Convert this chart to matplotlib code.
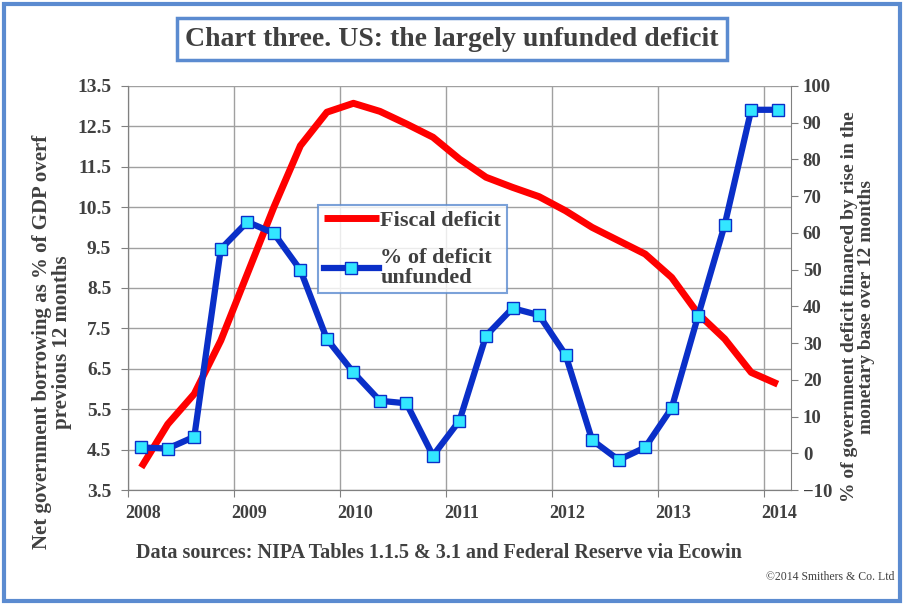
import matplotlib
matplotlib.use("Agg")
import matplotlib.pyplot as plt
from matplotlib.patches import Rectangle
from matplotlib.transforms import ScaledTranslation

# quarterly observations, plotted mid-quarter
dates = [2008.125 + 0.25 * i for i in range(25)]

fiscalDeficit = [4.06, 5.13, 5.88, 7.2, 8.85, 10.5, 12.02, 12.85, 13.07, 12.87,
                 12.56, 12.23, 11.69, 11.24, 10.99, 10.76, 10.41, 10.0, 9.67, 9.34,
                 8.76, 7.86, 7.24, 6.41, 6.12]

unfunded = [1.6, 1.3, 4.5, 55.6, 63.0, 59.9, 49.9, 31.1, 22.0, 14.3,
            13.6, -0.65, 8.9, 32.0, 39.5, 37.6, 26.8, 3.6, -1.8, 1.6,
            12.3, 37.5, 62.2, 93.5, 93.5]

years = [2008, 2009, 2010, 2011, 2012, 2013, 2014]
leftTicks = [3.5, 4.5, 5.5, 6.5, 7.5, 8.5, 9.5, 10.5, 11.5, 12.5, 13.5]
rightTicks = [-10, 0, 10, 20, 30, 40, 50, 60, 70, 80, 90, 100]

plt.rcParams['font.family'] = ['Liberation Serif', 'DejaVu Serif']
textCol = "#404040"
frameCol = "#5b8bd0"

fig = plt.figure(figsize=(9.09, 6.05), dpi=100)
ax = fig.add_axes([0.1408, 0.19, 0.7294, 0.668])
ax2 = ax.twinx()

red_line, = ax.plot(dates, fiscalDeficit, color="#ff0000", lw=5, solid_capstyle="butt",
                    label="Fiscal deficit", zorder=3)
blue_line, = ax2.plot(dates, unfunded, color="#0a2fc8", lw=4.5, marker="s", markersize=9,
                      markerfacecolor="#33e6ff", markeredgecolor="#0a2fc8", markeredgewidth=1,
                      label="% of deficit\nunfunded", zorder=3)

ax.set_xlim(2008, 2014.25)
ax.set_ylim(3.5, 13.5)
ax2.set_ylim(-10, 100)
ax.set_xticks(years)
ax.set_yticks(leftTicks)
ax2.set_yticks(rightTicks)
ax.set_xticklabels([str(y) for y in years])
ax.grid(True, color="#a0a0a0", lw=1)
ax.set_axisbelow(True)

for a in (ax, ax2):
    for s in a.spines.values():
        s.set_color("#808080")
    a.spines['top'].set_visible(False)
ax.spines['right'].set_visible(False)

ax.tick_params(axis='y', labelsize=14, colors="#808080", labelcolor=textCol, length=5, pad=7)
ax.tick_params(axis='x', labelsize=13, colors="#808080", labelcolor=textCol, length=5, pad=6)
ax2.tick_params(axis='y', labelsize=13.5, colors="#808080", labelcolor=textCol, length=5)
for lab in ax.get_xticklabels() + ax.get_yticklabels() + ax2.get_yticklabels():
    lab.set_fontweight("bold")
for lab in ax.get_xticklabels():
    lab.set_transform(lab.get_transform() + ScaledTranslation(0.15, 0, fig.dpi_scale_trans))

ax.set_ylabel("Net government borrowing as % of GDP overf\nprevious 12 months",
              fontsize=15, fontweight="bold", color=textCol, linespacing=1.0)
ax.yaxis.set_label_coords(-0.085, 0.366)
ax2.set_ylabel("% of government deficit financed by rise in the\nmonetary base over 12 months",
               fontsize=14, fontweight="bold", color=textCol, linespacing=1.0)
ax2.yaxis.set_label_coords(1.076, 0.453)

leg = ax.legend(handles=[red_line, blue_line], loc="upper left",
                bbox_to_anchor=(0.2866, 0.705), borderaxespad=0, frameon=True,
                fancybox=False, handlelength=2.5, handletextpad=0.05,
                labelspacing=0.75, borderpad=0.25, prop={'weight': 'bold', 'size': 16})
leg.get_frame().set_edgecolor(frameCol)
leg.get_frame().set_linewidth(1.5)
for t in leg.get_texts():
    t.set_color(textCol)
    t.set_linespacing(1.0)

fig.text(0.497, 0.9355, "Chart three. US: the largely unfunded deficit", ha="center", va="center",
         fontsize=20, fontweight="bold", color=textCol,
         bbox=dict(boxstyle="square,pad=0.3", facecolor="white", edgecolor=frameCol, linewidth=2.5))

fig.text(0.483, 0.086, "Data sources: NIPA Tables 1.1.5 & 3.1 and Federal Reserve via Ecowin",
         ha="center", va="center", fontsize=14.5, fontweight="bold", color=textCol)
fig.text(0.984, 0.046, "\u00a92014 Smithers & Co. Ltd", ha="right", va="center",
         fontsize=8.5, color=textCol)

fig.patches.append(Rectangle((0.004, 0.006), 0.986, 0.988, transform=fig.transFigure,
                             fill=False, edgecolor=frameCol, linewidth=3))

fig.savefig("out.png", dpi=100)
